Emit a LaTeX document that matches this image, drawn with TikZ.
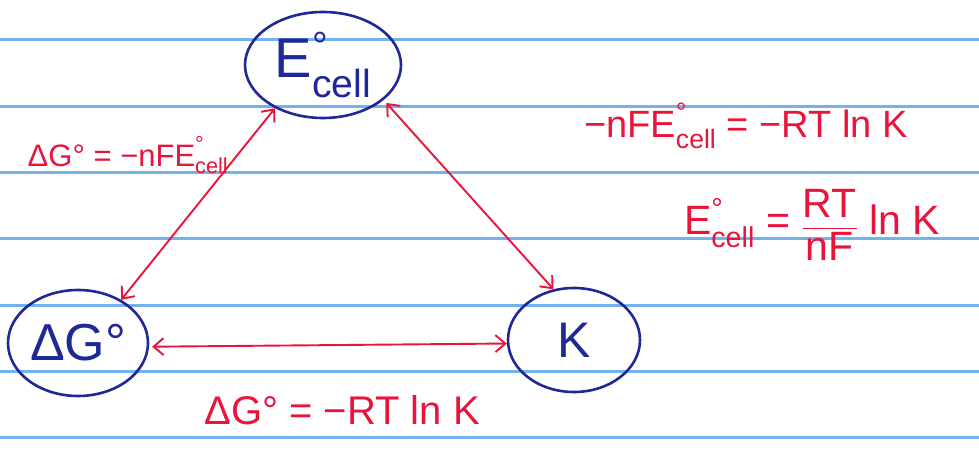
\documentclass[tikz,border=0pt]{standalone}
\usepackage{amsmath}
\usepackage{fontspec}
\usepackage{tikz}
\usepackage{xcolor}
\setmainfont{Liberation Sans}
\usetikzlibrary{arrows.meta, shapes.geometric, positioning}
\definecolor{InkBlue}{RGB}{30,40,150}
\definecolor{InkRed}{RGB}{232,20,60}
\definecolor{RuleBlue}{RGB}{115,178,235}
\newcommand{\ecell}{E\rlap{\textsuperscript{\raisebox{0.25em}{°}}}\textsubscript{cell}}

\begin{document}
\begin{tikzpicture}[
    x=1pt, y=-1pt,
    >={Straight Barb[length=10pt, width=17pt]},
    every edge/.style={draw=InkRed, line width=1.9pt, <->},
    quantity/.style={
        ellipse,
        draw=InkBlue,
        line width=2.6pt,
        text=InkBlue,
        inner sep=0pt
    },
    relation/.style={text=InkRed, inner sep=1pt, font=\fontsize{38}{44}\selectfont},
    ruling/.style={draw=RuleBlue, line width=3pt}
]
\useasboundingbox (0,0) rectangle (979,454);

% ruled paper
\foreach \y in {40,107,173,239,305,371,437}
    \draw[ruling] (0,\y) -- (979,\y);

\node[quantity, minimum width=156pt, minimum height=106pt] (E) at (323,65) {\fontsize{56}{60}\selectfont\ecell};
\node[quantity, minimum width=140pt, minimum height=106pt] (G) at (78,343) {\fontsize{52}{58}\selectfont ΔG°};
\node[quantity, minimum width=132pt, minimum height=104pt] (K) at (574,340) {\fontsize{50}{56}\selectfont K};

% relations between the three
\path (E.222) edge (G.45);
\path (E.-30) edge[shorten <=4pt] (K.112);
\path (G.-3) edge[shorten <=3pt] (K.183);

% equations
\node[relation, font=\fontsize{31}{36}\selectfont] (gE) at (128,155) {ΔG° = −nF\ecell};
\node[relation] (eq) at (746,126) {−nF\ecell{} = −RT ln K};
\node[relation, font=\fontsize{41}{46}\selectfont] (eK) at (812,225) {\ecell{} = $\dfrac{\text{RT}}{\text{nF}}$ ln K};
\node[relation, font=\fontsize{40}{46}\selectfont] (gK) at (342,410) {ΔG° = −RT ln K};

\end{tikzpicture}
\end{document}
